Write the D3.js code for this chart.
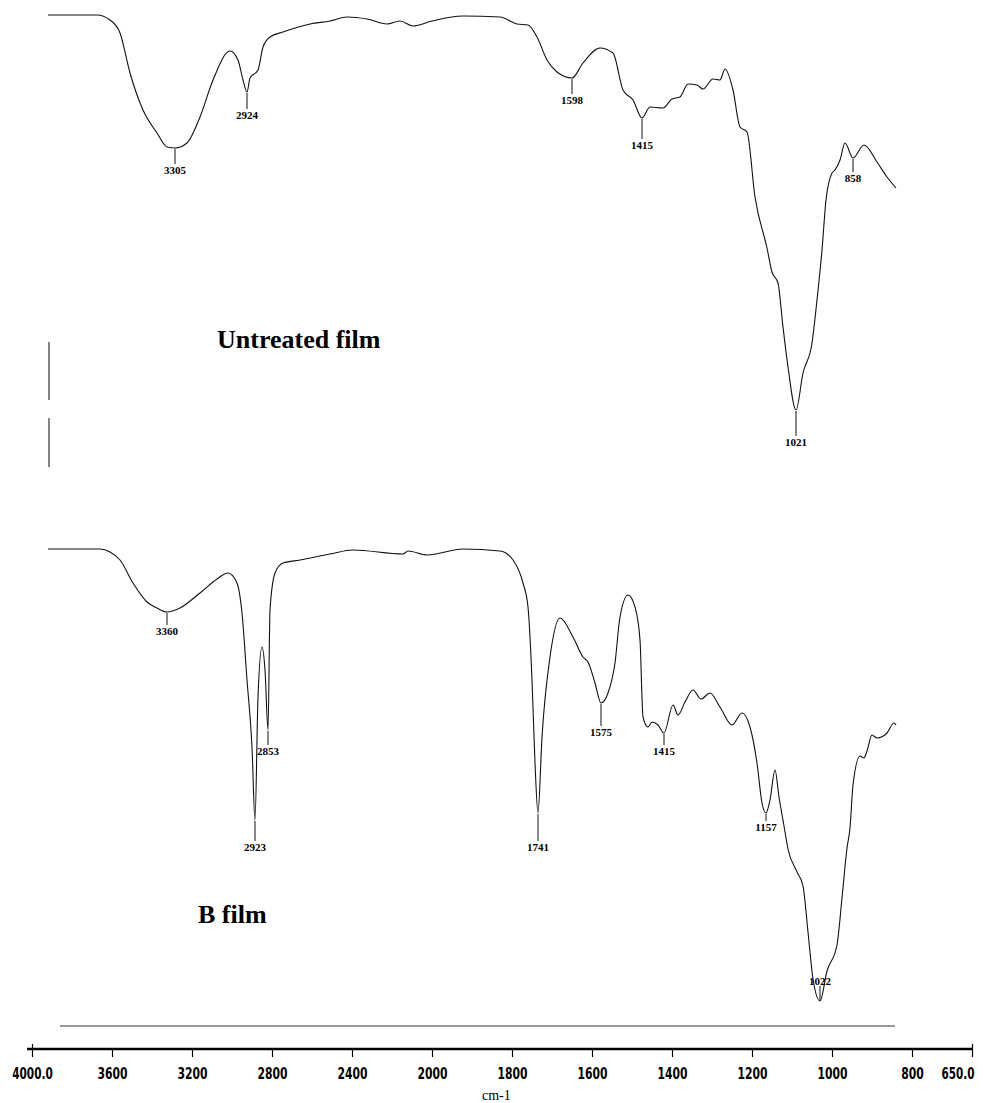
<!DOCTYPE html>
<html>
<head>
<meta charset="utf-8">
<script src="https://cdn.jsdelivr.net/npm/d3@7"></script>
<style>
  body { margin: 0; background: #fff; }
  svg { display: block; }
</style>
</head>
<body>
<div id="chart"></div>
<script>
// wavenumbers (cm-1, read against the bottom axis) and transmittance (%T, arbitrary)
const untreatedWn = [3920, 3675, 3610, 3560, 3510, 3445, 3375, 3325, 3285, 3225, 3160, 3095, 3010, 2970, 2945, 2925,
  2910, 2870, 2845, 2810, 2745, 2610, 2510, 2425, 2325, 2225, 2160, 2095, 2000, 1922.5, 1830, 1787.5, 1760, 1737.5,
  1712.5, 1687.5, 1650, 1622.5, 1580, 1547.5, 1522.5, 1497.5, 1475, 1455, 1422.5, 1400, 1380, 1360, 1337.5, 1322.5,
  1297.5, 1280, 1267.5, 1247.5, 1230, 1212.5, 1192.5, 1162.5, 1150, 1135, 1122.5, 1110, 1090, 1072.5, 1050, 1037.5,
  1025, 1015, 1000, 992.5, 980, 967.5, 947.5, 920, 887.5, 862.5, 840];
const untreatedT = [100, 100, 99, 96.4, 88.4, 81, 76.4, 73.6, 73.4, 74.4, 79.6, 87, 92.8, 91, 87, 84.6,
  87.4, 89, 93.6, 95.6, 96.6, 98.2, 98.8, 99.6, 99.2, 98.2, 98.8, 97.8, 98.8, 99.8, 99.6, 98.2, 98, 95.6,
  91, 88.6, 87.4, 90.4, 93.4, 92.4, 85, 83, 79.4, 81.6, 81.4, 83.2, 83.6, 86.2, 86, 85.2,
  87.2, 87, 89.2, 85, 77.6, 76.6, 63.6, 53.4, 48.6, 46.4, 37.6, 29.6, 21, 28.4, 34.4, 43,
  53, 63, 68.4, 69, 71, 74.4, 71.4, 74, 70.6, 67.6, 65.4];

const bFilmWn = [3920, 3660, 3610, 3560, 3495, 3425, 3375, 3325, 3260, 3160, 3075, 3020, 2975, 2950, 2925, 2900,
  2885, 2870, 2850, 2835, 2820, 2810, 2785, 2745, 2660, 2510, 2395, 2145, 2120, 2025, 1922.5, 1830, 1797.5, 1772.5,
  1760, 1750, 1742.5, 1735, 1725, 1705, 1680, 1647.5, 1622.5, 1610, 1592.5, 1577.5, 1560, 1542.5, 1530, 1510,
  1492.5, 1480, 1472.5, 1460, 1450, 1435, 1420, 1397.5, 1385, 1367.5, 1347.5, 1327.5, 1305, 1280, 1250, 1225,
  1205, 1187.5, 1175, 1165, 1155, 1142.5, 1132.5, 1120, 1110, 1087.5, 1072.5, 1060, 1047.5, 1030, 1012.5, 987.5,
  975, 962.5, 955, 947.5, 930, 920, 912.5, 900, 887.5, 862.5, 845, 840];
const bFilmT = [100, 100, 99.4, 97.8, 93.2, 89.4, 88.2, 87.4, 88.2, 91.2, 94, 95.2, 93.2, 87.2, 73.8, 60.4,
  45.8, 70.4, 80.4, 75.8, 63.8, 87.8, 95.2, 97.2, 97.8, 99, 99.8, 99, 99.6, 98.8, 100, 99.6, 97.8, 93.2,
  88.4, 73.8, 57.2, 47.2, 62.4, 78.4, 86.2, 82.4, 78.4, 77.4, 73.2, 69.2, 71.2, 77.2, 86.4, 90.8,
  88.4, 81.8, 66.4, 64.4, 65.4, 64.8, 63.2, 68.8, 66.8, 69.4, 71.8, 70, 71.2, 68.4, 64.8, 67.2,
  64.4, 57.2, 49.2, 47.2, 49.8, 55.8, 50.4, 44.6, 40, 35.4, 32.6, 23.4, 14, 9.6, 15.6, 20.8,
  30.2, 40.2, 44.2, 52.8, 58.6, 58.2, 59.6, 62.8, 62.2, 63.2, 65.2, 64.8];

const untreatedPeakLabels = ["3305", "2924", "1598", "1415", "1021", "858"];
const untreatedPeakWn = [3285, 2925, 1650, 1475, 1090, 947.5];
const bFilmPeakLabels = ["3360", "2923", "2853", "1741", "1575", "1415", "1157", "1022"];
const bFilmPeakWn = [3325, 2885, 2820, 1735, 1577.5, 1420, 1165, 1030];

const axisTicks = [4000, 3600, 3200, 2800, 2400, 2000, 1800, 1600, 1400, 1200, 1000, 800, 650];

// label offsets below each peak (px), negative = above
const untreatedGaps = [22, 23, 22, 27, 32, 20];
const bFilmGaps = [19, 27, 21, 34, 29, 18, 14, -20];

const W = 989, H = 1103;
const svg = d3.select("#chart").append("svg")
  .attr("width", W)
  .attr("height", H);

// scale doubles at 2000 cm-1 like the instrument printout
const x = d3.scaleLinear().domain([4000, 2000, 650]).range([32, 432, 972]);
const yTop = d3.scaleLinear().domain([0, 100]).range([515, 15]);
const yBot = d3.scaleLinear().domain([0, 100]).range([1049, 549]);

function drawSpectrum(wn, t, y, labels, peakWn, gaps) {
  const pts = wn.map((w, i) => [w, t[i]]);
  const line = d3.line()
    .x(d => x(d[0]))
    .y(d => y(d[1]))
    .curve(d3.curveMonotoneX);

  svg.append("path")
    .datum(pts)
    .attr("d", line)
    .attr("fill", "none")
    .attr("stroke", "#111")
    .attr("stroke-width", 1.1);

  const g = svg.append("g")
    .attr("font-family", "'Liberation Serif', 'DejaVu Serif', serif")
    .attr("font-weight", "bold")
    .attr("font-size", 11);

  labels.forEach((lab, i) => {
    const k = wn.indexOf(peakWn[i]);
    const px = x(peakWn[i]), py = y(t[k]);
    const ly = py + gaps[i];
    g.append("line")
      .attr("x1", px).attr("x2", px)
      .attr("y1", gaps[i] > 0 ? py + 1 : ly + 5)
      .attr("y2", gaps[i] > 0 ? ly - 6 : py)
      .attr("stroke", "#111")
      .attr("stroke-width", 1);
    g.append("text")
      .attr("x", px)
      .attr("y", ly)
      .attr("dy", "0.35em")
      .attr("text-anchor", "middle")
      .text(lab);
  });
}

drawSpectrum(untreatedWn, untreatedT, yTop, untreatedPeakLabels, untreatedPeakWn, untreatedGaps);
drawSpectrum(bFilmWn, bFilmT, yBot, bFilmPeakLabels, bFilmPeakWn, bFilmGaps);

// leftover fragments of the ordinate in the upper panel
const ordinateBits = [[34.6, 23], [19.4, 9.6]];
svg.append("g").selectAll("line")
  .data(ordinateBits)
  .join("line")
  .attr("x1", x(3915)).attr("x2", x(3915))
  .attr("y1", d => yTop(d[0]))
  .attr("y2", d => yTop(d[1]))
  .attr("stroke", "#333")
  .attr("stroke-width", 1.2);

// thin base line under the lower spectrum
svg.append("line")
  .attr("x1", x(3860)).attr("x2", x(842.5))
  .attr("y1", yBot(4.6)).attr("y2", yBot(4.6))
  .attr("stroke", "#333")
  .attr("stroke-width", 1);

// panel titles
svg.append("text")
  .attr("x", 217).attr("y", 348)
  .attr("font-family", "'Liberation Serif', 'Times New Roman', serif")
  .attr("font-weight", "bold")
  .attr("font-size", 26)
  .text("Untreated film");

svg.append("text")
  .attr("x", 198).attr("y", 923)
  .attr("font-family", "'Liberation Serif', 'Times New Roman', serif")
  .attr("font-weight", "bold")
  .attr("font-size", 26)
  .text("B film");

// wavenumber axis
const axis = d3.axisBottom(x)
  .tickValues(axisTicks)
  .tickSize(8)
  .tickFormat(d => (d === 4000 || d === 650) ? d3.format(".1f")(d) : d3.format("d")(d));

const gx = svg.append("g")
  .attr("transform", "translate(0,1049)")
  .call(axis);

gx.select(".domain")
  .attr("stroke", "#000")
  .attr("stroke-width", 2.5)
  .attr("d", "M" + (x(4000) - 5) + ",0H" + x(650));

gx.selectAll(".tick line")
  .attr("stroke", "#000")
  .attr("stroke-width", 1.2)
  .attr("y1", d => (d === 4000 || d === 650) ? -5 : 0);

gx.selectAll(".tick text")
  .attr("y", 24)
  .attr("dy", "0.35em")
  .attr("fill", "#000")
  .attr("font-family", "'DejaVu Sans Condensed', 'DejaVu Sans', sans-serif")
  .attr("font-stretch", "condensed")
  .attr("font-weight", "bold")
  .attr("font-size", 16)
  .attr("textLength", function () {
    const s = this.textContent;
    return s.replace(".", "").length * 7.5 + (s.includes(".") ? 3 : 0);
  })
  .attr("lengthAdjust", "spacingAndGlyphs");

// last label sits left of its tick, as on the printout
gx.selectAll(".tick text")
  .filter(d => d === 650)
  .attr("text-anchor", "end")
  .attr("x", 2);

svg.append("text")
  .attr("x", 482).attr("y", 1100)
  .attr("font-family", "'Liberation Serif', 'Times New Roman', serif")
  .attr("font-size", 14)
  .text("cm-1");
</script>
</body>
</html>
